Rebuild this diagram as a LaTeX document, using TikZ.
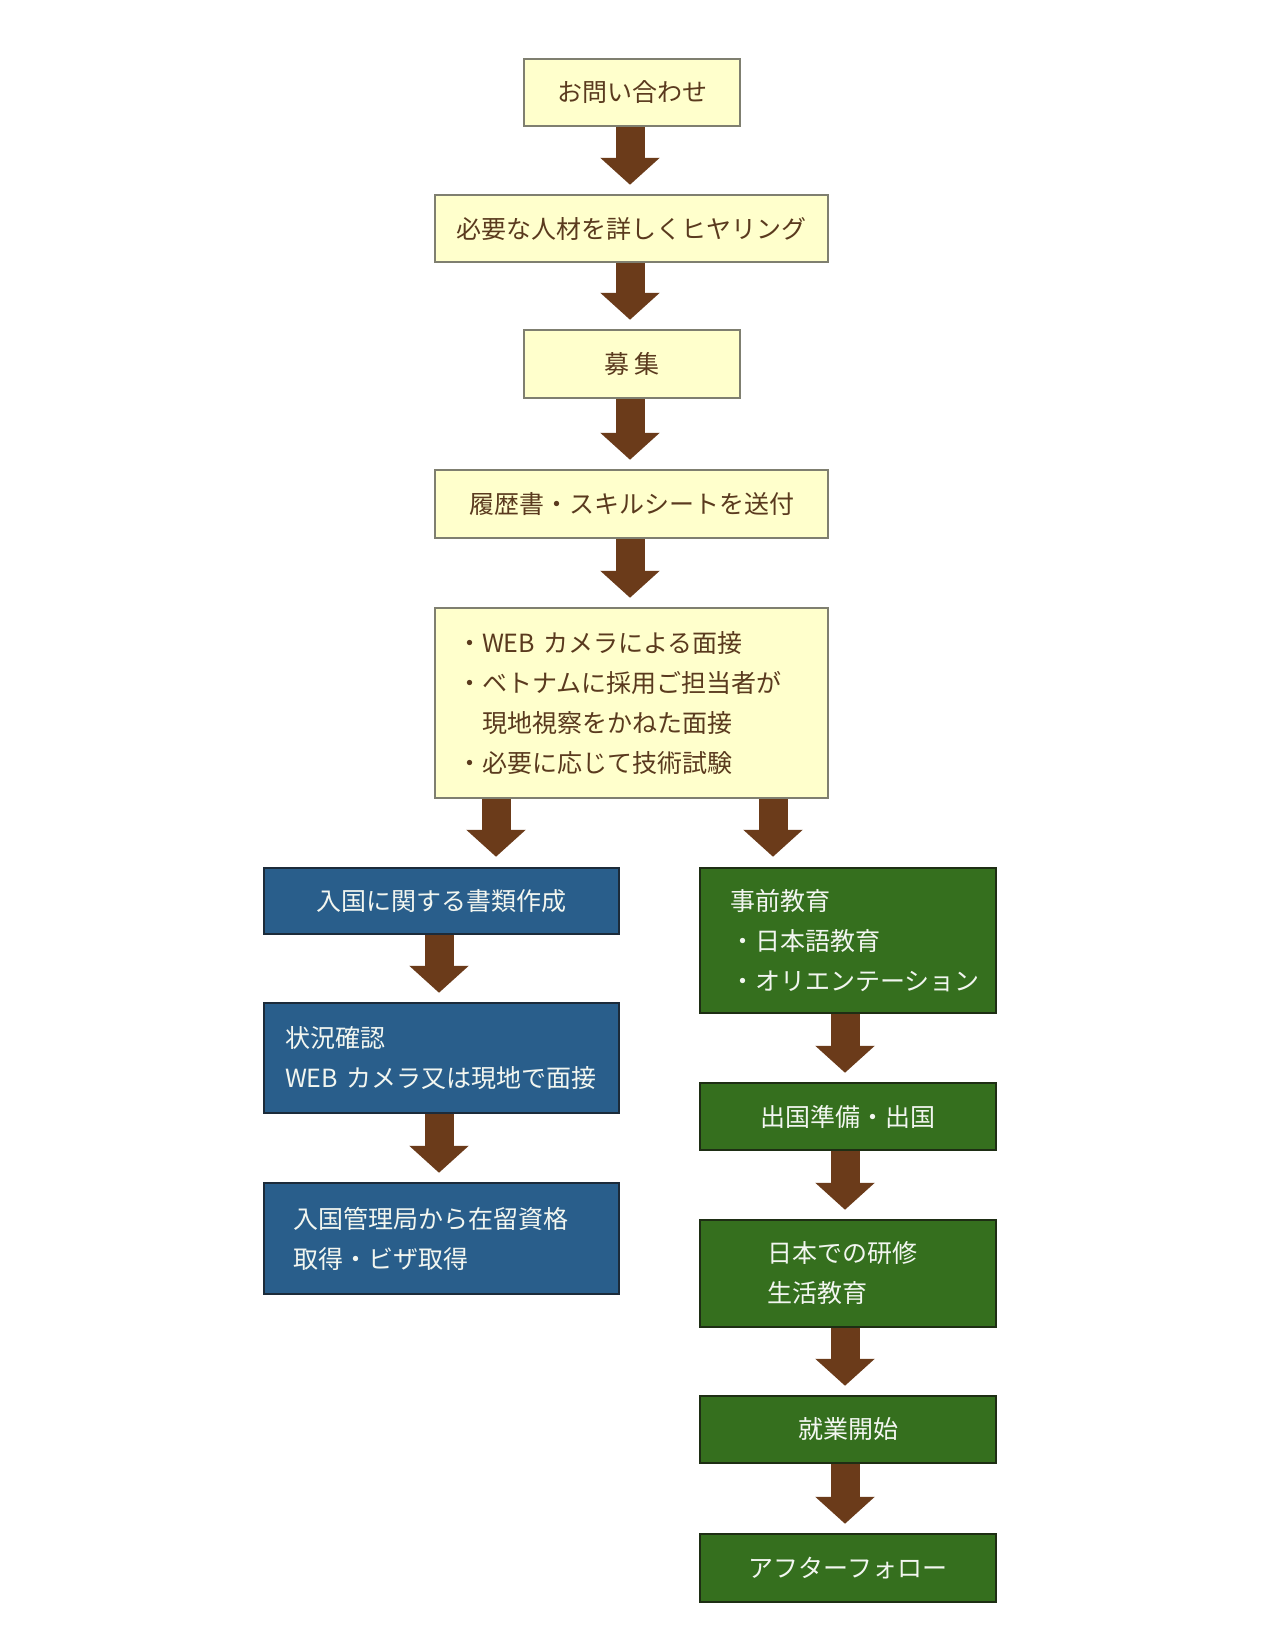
\documentclass[tikz,border=0pt]{standalone}
\usepackage{fontspec}
\setmainfont{Noto Sans CJK JP}
\usetikzlibrary{arrows.meta}
\definecolor{yfill}{HTML}{FFFFCC}
\definecolor{yline}{HTML}{7F7F70}
\definecolor{ytext}{HTML}{5A3A1E}
\definecolor{bfill}{HTML}{295E8B}
\definecolor{bline}{HTML}{1C2B3A}
\definecolor{gfill}{HTML}{356F1E}
\definecolor{gline}{HTML}{1E2E14}
\definecolor{ltext}{HTML}{F2F6F0}
\definecolor{brownarr}{HTML}{6B3B1A}
\begin{document}
\begin{tikzpicture}[x=1pt,y=-1pt,
  base/.style={rectangle, inner sep=0pt, line width=2.5pt,
    font=\fontsize{25}{40}\selectfont},
  ybox/.style={base, fill=yfill, draw=yline, text=ytext},
  bbox/.style={base, fill=bfill, draw=bline, text=ltext},
  gbox/.style={base, fill=gfill, draw=gline, text=ltext},
  flowarr/.style={draw=brownarr, line width=29pt,
    -{Triangle[width=58pt,length=27pt,fill=brownarr]}, shorten >=#1},
  flowarr/.default=9pt
]
\useasboundingbox (0,0) rectangle (1275,1650);
\fill[white] (0,0) rectangle (1275,1650);

% main column
\node[ybox, minimum width=216pt, minimum height=67pt] (n1) at (632,92.5) {お問い合わせ};
\node[ybox, minimum width=393pt, minimum height=67pt] (n2) at (631.5,228.5) {必要な人材を詳しくヒヤリング};
\node[ybox, minimum width=216pt, minimum height=68pt] (n3) at (632,364) {募 集};
\node[ybox, minimum width=393pt, minimum height=68pt] (n4) at (631.5,504) {履歴書・スキルシートを送付};
\node[ybox, minimum width=393pt, minimum height=190pt, text width=349pt, align=left] (n5) at (631.5,703)
  {・WEB カメラによる面接\\・ベトナムに採用ご担当者が\\\hspace*{25pt}現地視察をかねた面接\\・必要に応じて技術試験};

% left column
\node[bbox, minimum width=355pt, minimum height=66pt] (l1) at (441.5,901) {入国に関する書類作成};
\node[bbox, minimum width=355pt, minimum height=110pt, text width=313pt, align=left] (l2) at (441.5,1058)
  {状況確認\\WEB カメラ又は現地で面接};
\node[bbox, minimum width=355pt, minimum height=111pt, text width=297pt, align=left] (l3) at (441.5,1238.5)
  {入国管理局から在留資格\\取得・ビザ取得};

% right column
\node[gbox, minimum width=296pt, minimum height=145pt, text width=236pt, align=left] (r1) at (848,940.5)
  {事前教育\\・日本語教育\\・オリエンテーション};
\node[gbox, minimum width=296pt, minimum height=67pt] (r2) at (848,1116.5) {出国準備・出国};
\node[gbox, minimum width=296pt, minimum height=107pt, text width=162pt, align=left] (r3) at (848,1273.5)
  {日本での研修\\生活教育};
\node[gbox, minimum width=296pt, minimum height=67pt] (r4) at (848,1429.5) {就業開始};
\node[gbox, minimum width=296pt, minimum height=68pt] (r5) at (848,1568) {アフターフォロー};

% arrows main
\draw[flowarr] ([xshift=-2pt]n1.south) -- ([xshift=-1.5pt]n2.north);
\draw[flowarr] ([xshift=-1.5pt]n2.south) -- ([xshift=-2pt]n3.north);
\draw[flowarr] ([xshift=-2pt]n3.south) -- ([xshift=-1.5pt]n4.north);
\draw[flowarr] ([xshift=-1.5pt]n4.south) -- ([xshift=-1.5pt]n5.north);

% split
\coordinate (s1) at (n5.south -| 496,0);
\coordinate (s2) at (n5.south -| 773,0);
\coordinate (t1) at (l1.north -| 496,0);
\coordinate (t2) at (r1.north -| 773,0);
\draw[flowarr=10pt] (s1) -- (t1);
\draw[flowarr=10pt] (s2) -- (t2);

% left arrows
\draw[flowarr] ([xshift=-2.5pt]l1.south) -- ([xshift=-2.5pt]l2.north);
\draw[flowarr] ([xshift=-2.5pt]l2.south) -- ([xshift=-2.5pt]l3.north);

% right arrows
\draw[flowarr] ([xshift=-3pt]r1.south) -- ([xshift=-3pt]r2.north);
\draw[flowarr] ([xshift=-3pt]r2.south) -- ([xshift=-3pt]r3.north);
\draw[flowarr] ([xshift=-3pt]r3.south) -- ([xshift=-3pt]r4.north);
\draw[flowarr] ([xshift=-3pt]r4.south) -- ([xshift=-3pt]r5.north);
\end{tikzpicture}
\end{document}
